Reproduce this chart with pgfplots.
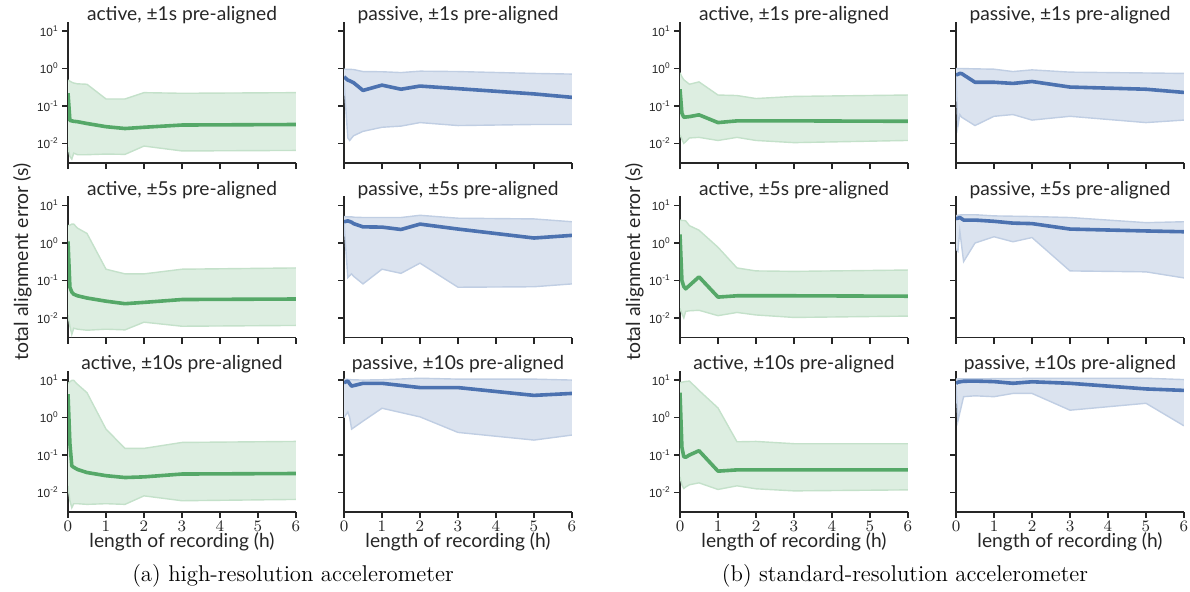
\documentclass[border=0pt]{standalone}
\usepackage{pgfplots}
\pgfplotsset{compat=1.18}
\usepackage{pgfplotstable}
\usepgfplotslibrary{fillbetween}
\usepackage{fontspec}
\newfontfamily\ttl{Lato}
\newfontfamily\tck{Liberation Sans}
\definecolor{sgreen}{HTML}{55A868}
\definecolor{sblue}{HTML}{4C72B0}
\definecolor{txt}{HTML}{262626}
\colorlet{gfill}{sgreen!20!white}
\colorlet{gedge}{sgreen!35!white}
\colorlet{bfill}{sblue!20!white}
\colorlet{bedge}{sblue!35!white}

% (a) high-resolution
\pgfplotstableread{
x med lo hi
0 0.22 0.008 0.49
0.05 0.041 0.0045 0.46
0.1 0.040 0.0038 0.43
0.15 0.039 0.0055 0.41
0.25 0.038 0.005 0.39
0.5 0.034 0.005 0.38
1 0.028 0.0052 0.154
1.5 0.025 0.0051 0.154
2 0.027 0.0085 0.227
3 0.031 0.0063 0.218
6 0.032 0.0065 0.227
}\tAa
\pgfplotstableread{
x med lo hi
0 0.60 0.45 0.96
0.1 0.49 0.014 0.95
0.15 0.47 0.012 0.95
0.25 0.42 0.016 0.94
0.5 0.26 0.021 0.83
1 0.36 0.027 0.82
1.5 0.28 0.029 0.78
2 0.34 0.036 0.85
3 0.29 0.030 0.83
5 0.21 0.032 0.74
6 0.17 0.032 0.71
}\tAb
\pgfplotstableread{
x med lo hi
0 1.1 0.012 2.9
0.05 0.066 0.006 3.0
0.1 0.049 0.0036 3.2
0.15 0.043 0.0053 3.2
0.25 0.039 0.005 2.5
0.5 0.034 0.0047 1.8
1 0.028 0.005 0.20
1.5 0.024 0.0048 0.15
2 0.026 0.0077 0.15
3 0.031 0.006 0.20
6 0.032 0.0063 0.216
}\tAc
\pgfplotstableread{
x med lo hi
0 3.7 3.5 5.1
0.1 3.9 0.12 5.0
0.2 3.6 0.15 5.0
0.25 3.3 0.13 4.9
0.5 2.7 0.081 4.8
1 2.66 0.20 4.8
1.5 2.3 0.155 4.8
2 3.2 0.29 5.5
3 2.36 0.066 4.6
5 1.36 0.068 4.4
6 1.6 0.081 3.7
}\tAd
\pgfplotstableread{
x med lo hi
0 4.2 0.015 8.0
0.05 0.2 0.006 9.0
0.1 0.051 0.0039 9.8
0.15 0.047 0.005 9.8
0.25 0.041 0.005 7.7
0.5 0.034 0.0048 4.6
1 0.028 0.005 0.49
1.5 0.025 0.0048 0.15
2 0.026 0.0081 0.15
3 0.031 0.006 0.216
6 0.032 0.0065 0.23
}\tAe
\pgfplotstableread{
x med lo hi
0 8.5 1.0 10.5
0.1 9.4 1.4 10.4
0.15 8.0 1.0 10.3
0.2 6.9 0.49 10.2
0.5 8.2 0.8 10.0
1 8.2 1.77 10.2
2 6.3 1.04 11.2
3 6.3 0.40 10.6
5 3.9 0.25 10.6
6 4.4 0.34 10.0
}\tAf
% (b) standard-resolution
\pgfplotstableread{
x med lo hi
0 0.28 0.017 0.77
0.05 0.064 0.013 0.6
0.1 0.050 0.010 0.5
0.25 0.052 0.014 0.38
0.5 0.058 0.0145 0.44
1 0.036 0.012 0.196
1.5 0.040 0.0145 0.19
2 0.040 0.012 0.158
3 0.040 0.0105 0.18
6 0.039 0.012 0.196
}\tBa
\pgfplotstableread{
x med lo hi
0 0.67 0.6 1.0
0.05 0.70 0.029 1.0
0.1 0.74 0.059 1.0
0.15 0.73 0.05 1.0
0.5 0.43 0.030 0.98
1 0.43 0.053 0.96
1.5 0.40 0.059 0.83
2 0.45 0.042 0.92
3 0.32 0.053 0.80
5 0.28 0.036 0.76
6 0.23 0.042 0.74
}\tBb
\pgfplotstableread{
x med lo hi
0 1.7 0.018 4.1
0.05 0.10 0.013 4.0
0.1 0.069 0.010 4.0
0.15 0.060 0.015 3.9
0.25 0.074 0.0155 2.9
0.5 0.125 0.016 2.2
1 0.036 0.0115 0.77
1.5 0.039 0.014 0.216
2 0.039 0.012 0.18
3 0.039 0.0103 0.175
6 0.038 0.0112 0.19
}\tBc
\pgfplotstableread{
x med lo hi
0 4.5 0.7 5.4
0.05 4.6 0.6 5.5
0.1 4.8 2.1 5.6
0.2 4.1 0.32 5.7
0.5 4.1 1.0 5.7
1 3.8 1.47 5.3
1.5 3.4 1.08 5.2
2 3.3 1.4 5.1
3 2.36 0.18 4.8
5 2.1 0.17 3.5
6 2.0 0.117 3.7
}\tBd
\pgfplotstableread{
x med lo hi
0 4.6 0.026 8.5
0.05 0.16 0.016 8.8
0.1 0.09 0.0127 9.0
0.15 0.087 0.014 9.2
0.25 0.10 0.016 9.4
0.5 0.13 0.018 5.3
1 0.037 0.012 1.8
1.5 0.040 0.015 0.225
2 0.040 0.0125 0.23
3 0.040 0.011 0.20
6 0.040 0.0117 0.20
}\tBe
\pgfplotstableread{
x med lo hi
0 8.2 7.0 10.7
0.05 8.8 0.81 10.7
0.2 9.3 3.6 10.8
0.5 9.4 3.8 10.8
1 9.1 3.6 10.9
1.5 8.2 4.4 11.0
2 9.0 4.4 11.1
3 8.2 1.57 11.2
5 5.8 2.4 11.2
6 5.3 0.6 10.3
}\tBf

\newcommand{\band}[4]{%
  \addplot[name path=H, draw=none] table[x=x,y=hi]{#1};
  \addplot[name path=L, draw=none] table[x=x,y=lo]{#1};
  \addplot[fill=#3, draw=none] fill between[of=H and L];
  \addplot[#4, line width=0.7pt] table[x=x,y=hi]{#1};
  \addplot[#4, line width=0.7pt] table[x=x,y=lo]{#1};
  \addplot[#2, line width=1.8pt, line join=round] table[x=x,y=med]{#1};
}

\pgfplotsset{
  subpanel/.style={
    scale only axis, width=114pt, height=70.75pt,
    anchor=south west,
    xmin=0, xmax=6, ymin=0.003, ymax=18,
    axis x line*=bottom, axis y line*=left,
    axis line style={-, draw=txt, line width=0.8pt},
    tick style={draw=txt, line width=0.8pt},
    tick align=outside, major tick length=3pt,
    xtick={0,1,2,3,4,5,6}, ytick={0.01,0.1,1,10},
    yminorticks=false, xminorticks=false,
    every axis title/.style={font=\ttl\fontsize{9.6}{10}\selectfont, color=txt, at={(axis description cs:0.5,1)}, anchor=base, yshift=0.4pt, inner sep=0pt},
    every axis x label/.style={font=\ttl\fontsize{9.6}{10}\selectfont, color=txt, at={(axis description cs:0.5,0)}, anchor=base, yshift=-17.5pt, inner sep=0pt},
    xticklabel style={font=\tck\fontsize{7.6}{9}\selectfont, color=txt, inner sep=1.2pt},
    yticklabel style={font=\tck\fontsize{5.9}{7}\selectfont, color=txt, inner sep=1.5pt},
  },
  lefty/.style={yticklabels={10\textsuperscript{-2},10\textsuperscript{-1},10\textsuperscript{0},10\textsuperscript{1}}},
  righty/.style={yticklabels={}},
  nox/.style={xticklabels={}},
  withx/.style={xlabel={length of recording (h)}},
}

\begin{document}
\begin{tikzpicture}

% ===== (a) =====
\begin{semilogyaxis}[subpanel, lefty, nox, at={(34pt,-81.5pt)}, title={active, ±1s pre-aligned}]
\band{\tAa}{sgreen}{gfill}{gedge}
\end{semilogyaxis}
\begin{semilogyaxis}[subpanel, righty, nox, at={(172pt,-81.5pt)}, title={passive, ±1s pre-aligned}]
\band{\tAb}{sblue}{bfill}{bedge}
\end{semilogyaxis}
\begin{semilogyaxis}[subpanel, lefty, nox, at={(34pt,-168.75pt)}, title={active, ±5s pre-aligned}]
\band{\tAc}{sgreen}{gfill}{gedge}
\end{semilogyaxis}
\begin{semilogyaxis}[subpanel, righty, nox, at={(172pt,-168.75pt)}, title={passive, ±5s pre-aligned}]
\band{\tAd}{sblue}{bfill}{bedge}
\end{semilogyaxis}
\begin{semilogyaxis}[subpanel, lefty, withx, at={(34pt,-256pt)}, title={active, ±10s pre-aligned}]
\band{\tAe}{sgreen}{gfill}{gedge}
\end{semilogyaxis}
\begin{semilogyaxis}[subpanel, righty, withx, at={(172pt,-256pt)}, title={passive, ±10s pre-aligned}]
\band{\tAf}{sblue}{bfill}{bedge}
\end{semilogyaxis}

% ===== (b) =====
\begin{semilogyaxis}[subpanel, lefty, nox, at={(340pt,-81.5pt)}, title={active, ±1s pre-aligned}]
\band{\tBa}{sgreen}{gfill}{gedge}
\end{semilogyaxis}
\begin{semilogyaxis}[subpanel, righty, nox, at={(478pt,-81.5pt)}, title={passive, ±1s pre-aligned}]
\band{\tBb}{sblue}{bfill}{bedge}
\end{semilogyaxis}
\begin{semilogyaxis}[subpanel, lefty, nox, at={(340pt,-168.75pt)}, title={active, ±5s pre-aligned}]
\band{\tBc}{sgreen}{gfill}{gedge}
\end{semilogyaxis}
\begin{semilogyaxis}[subpanel, righty, nox, at={(478pt,-168.75pt)}, title={passive, ±5s pre-aligned}]
\band{\tBd}{sblue}{bfill}{bedge}
\end{semilogyaxis}
\begin{semilogyaxis}[subpanel, lefty, withx, at={(340pt,-256pt)}, title={active, ±10s pre-aligned}]
\band{\tBe}{sgreen}{gfill}{gedge}
\end{semilogyaxis}
\begin{semilogyaxis}[subpanel, righty, withx, at={(478pt,-256pt)}, title={passive, ±10s pre-aligned}]
\band{\tBf}{sblue}{bfill}{bedge}
\end{semilogyaxis}

% y labels
\node[rotate=90, anchor=base, font=\ttl\fontsize{9.7}{10}\selectfont, text=txt, inner sep=0pt] at (14pt,-131pt) {total alignment error (s)};
\node[rotate=90, anchor=base, font=\ttl\fontsize{9.7}{10}\selectfont, text=txt, inner sep=0pt] at (320pt,-131pt) {total alignment error (s)};

% captions
\node[anchor=base, font=\fontsize{11.4}{13}\selectfont, inner sep=0pt] at (146.5pt,-290.5pt) {(a) high-resolution accelerometer};
\node[anchor=base, font=\fontsize{11.4}{13}\selectfont, inner sep=0pt] at (452.5pt,-290.5pt) {(b) standard-resolution accelerometer};

\pgfresetboundingbox
\path[use as bounding box] (0pt,0pt) rectangle (595pt,-295.5pt);
\end{tikzpicture}
\end{document}
